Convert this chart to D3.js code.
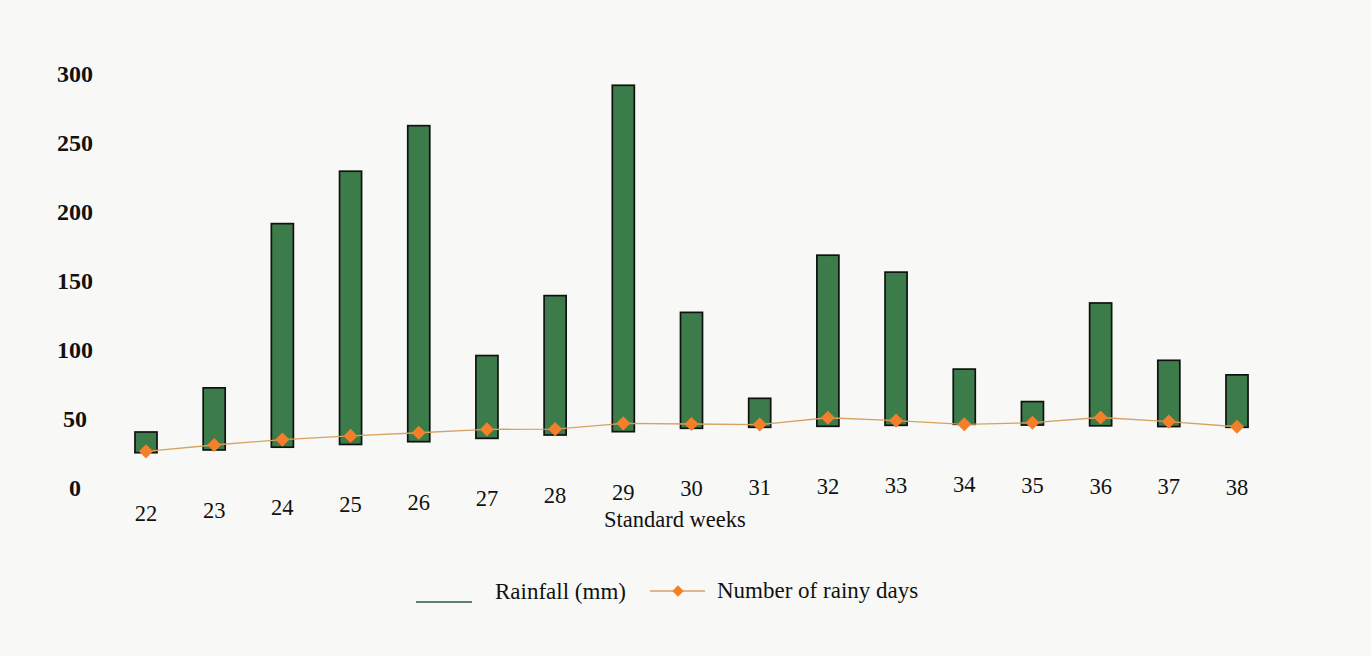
<!DOCTYPE html>
<html>
<head>
<meta charset="utf-8">
<script src="https://cdn.jsdelivr.net/npm/d3@7"></script>
<style>
  html, body { margin: 0; padding: 0; background: #f8f9f6; }
  svg { display: block; }
  text { font-family: "Liberation Serif", "Times New Roman", serif; fill: #111; }
</style>
</head>
<body>
<svg id="chart" width="1371" height="656"></svg>
<script>
// ---- data ----
const weeks = ["22","23","24","25","26","27","28","29","30","31","32","33","34","35","36","37","38"];
const rainfall = [15, 45, 162, 198, 229, 60, 101, 251, 84, 21, 124, 111, 40, 17, 89, 48, 38];
const rainyDays = [1, 3.6, 5.5, 6.2, 6.5, 6.5, 4.3, 6, 3.1, 2, 6.2, 3.4, 0, 1.7, 6, 3.6, 0.4];
const yTicks = [0, 50, 100, 150, 200, 250, 300];
const seriesNames = ["Rainfall (mm)", "Number of rainy days"];
const xTitle = "Standard weeks";

// ---- layout ----
const W = 1371, H = 656;
const svg = d3.select("#chart");
svg.append("rect").attr("width", W).attr("height", H).attr("fill", "#f8f9f6");

const x = d3.scaleBand().domain(weeks).range([111.9, 1271.1]).paddingInner(0.677).paddingOuter(0.3385);
const y = d3.scaleLinear().domain([0, 300]).range([452.7, 38.7]);
// the scanned page is bent: the baseline drifts upward from left to right
const pageBend = d3.scaleLinear().domain([0, 4, 8, 12, 16]).range([0, -11, -24.4, -28.4, -25.4]);

const barColor = "#3c7b4a";
const lineColor = "#d6a262";
const markColor = "#f47f2a";

// ---- y axis labels ----
const yAxis = d3.axisLeft(y).tickValues(yTicks).tickSize(0).tickPadding(0);
const gy = svg.append("g").attr("transform", "translate(75,35.3)").call(yAxis);
gy.select(".domain").remove();
gy.selectAll("text")
  .attr("text-anchor", "middle")
  .attr("x", 0)
  .style("font-family", "'Liberation Serif', serif")
  .style("font-size", "24px")
  .style("font-weight", "bold")
  .attr("fill", "#111");

// ---- bars (rainfall) ----
const plot = svg.append("g");
plot.selectAll("rect.bar")
  .data(weeks)
  .join("rect")
  .attr("class", "bar")
  .attr("x", d => x(d))
  .attr("width", x.bandwidth())
  .attr("y", (d, i) => y(rainfall[i]) + pageBend(i))
  .attr("height", (d, i) => y(0) - y(rainfall[i]))
  .attr("fill", barColor)
  .attr("stroke", "#111")
  .attr("stroke-width", 1.7);

// ---- rainy days line ----
const pts = weeks.map((d, i) => [x(d) + x.bandwidth() / 2, y(rainyDays[i]) + pageBend(i)]);
plot.append("path")
  .attr("d", d3.line()(pts))
  .attr("fill", "none")
  .attr("stroke", lineColor)
  .attr("stroke-width", 1.3);

const diamond = d3.symbol().type(d3.symbolSquare).size(100);
plot.selectAll("path.mk")
  .data(pts)
  .join("path")
  .attr("class", "mk")
  .attr("d", diamond)
  .attr("transform", p => `translate(${p[0]},${p[1]}) rotate(45)`)
  .attr("fill", markColor);

// ---- x labels ----
plot.selectAll("text.xl")
  .data(weeks)
  .join("text")
  .attr("class", "xl")
  .attr("x", d => x(d) + x.bandwidth() / 2)
  .attr("y", (d, i) => y(0) + pageBend(i) + 60)
  .attr("dy", "0.35em")
  .attr("text-anchor", "middle")
  .style("font-size", "22.5px")
  .text(d => d);

svg.append("text")
  .attr("x", 604).attr("y", 527)
  .style("font-size", "22.5px")
  .text(xTitle);

// ---- legend ----
const lg = svg.append("g");
lg.append("line").attr("x1", 416).attr("x2", 472).attr("y1", 602).attr("y2", 602)
  .attr("stroke", "#2e5a38").attr("stroke-width", 1.6);
lg.append("text").attr("x", 495).attr("y", 599).style("font-size", "23px").text(seriesNames[0]);
lg.append("line").attr("x1", 650).attr("x2", 705).attr("y1", 591).attr("y2", 591)
  .attr("stroke", lineColor).attr("stroke-width", 1.3);
lg.append("path").attr("d", d3.symbol().type(d3.symbolSquare).size(64))
  .attr("transform", "translate(678,591) rotate(45)").attr("fill", markColor);
lg.append("text").attr("x", 717).attr("y", 598).style("font-size", "23px").text(seriesNames[1]);
</script>
</body>
</html>
